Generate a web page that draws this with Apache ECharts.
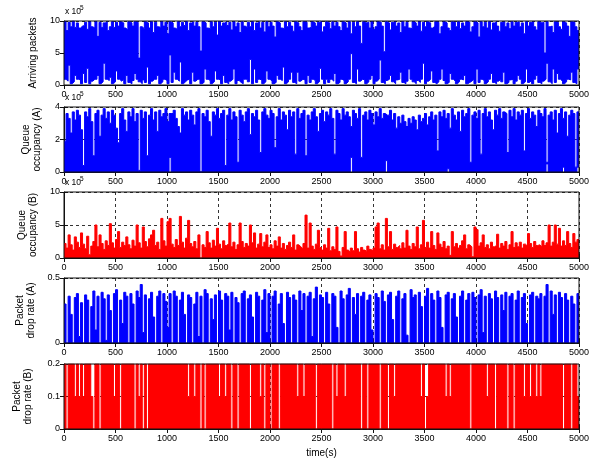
<!DOCTYPE html>
<html><head><meta charset="utf-8">
<script src="https://cdn.jsdelivr.net/npm/echarts@6/dist/echarts.min.js"></script>
<style>html,body{margin:0;padding:0;background:#fff}#c{width:597px;height:464px}</style>
</head><body><div id="c"></div><script>
const SAMPLE_SEC = 20;
const X_MIN = 0, X_MAX = 5000, X_INTERVAL = 500;
const xTickLabels = ['0','500','1000','1500','2000','2500','3000','3500','4000','4500','5000'];

// Panel 1: Arriving packets (x10^5), upper and lower envelope
const arrivingHigh = [
9.9,8.5,9.8,9.1,10,9.0,9.7,8.9,9.2,9.3, 9.8,8.7,9.9,9.1,8.9,9.9,7.6,9.8,9.0,9.7,
9.9,8.5,9.1,9.9,9.0,9.8,9.2,9.9,9.7,8.9, 8.6,9.9,9.7,9.2,9.9,9.8,4.2,9.1,8.8,9.9,
9.7,8.9,9.9,8.2,9.8,9.1,9.0,9.9,9.2,9.8, 8.0,9.9,9.7,8.9,8.7,9.9,9.1,9.8,9.3,9.9,
8.5,9.7,9.9,9.2,9.8,9.1,5.3,9.9,9.7,8.9, 8.8,9.9,9.1,9.8,7.8,9.9,9.2,9.7,9.9,9.3,
9.8,8.6,9.9,9.1,9.7,8.2,9.9,9.2,9.0,9.8, 9.1,9.9,8.5,9.7,9.9,8.9,9.8,8.3,9.9,9.1,
9.8,9.2,7.5,9.9,9.7,8.9,8.8,9.9,9.1,9.8, 9.2,8.4,9.9,9.7,9.1,8.5,9.9,9.8,8.9,9.0,
9.9,9.7,9.2,9.8,9.9,8.3,9.1,9.9,9.7,8.8, 9.9,9.2,9.8,9.1,8.5,9.9,9.7,8.9,9.9,8.0,
9.8,9.1,9.9,9.2,6.5,9.9,9.7,9.8,8.9,9.9, 8.7,9.1,9.9,9.8,9.2,5.2,9.9,9.7,8.6,9.8,
9.9,9.2,9.7,8.2,9.9,9.1,9.8,8.9,8.8,9.9, 9.7,9.2,9.9,8.4,9.8,9.1,9.9,9.7,8.9,9.2,
9.9,9.8,8.0,9.1,9.9,9.7,8.9,8.5,9.9,9.8, 9.1,9.9,8.8,9.7,9.2,9.9,9.8,8.3,9.1,9.9,
9.7,7.5,9.9,9.1,9.8,8.9,9.9,8.6,9.7,9.9, 9.2,8.4,9.8,9.9,9.1,9.7,8.8,9.9,9.2,9.8,
9.9,9.1,9.7,8.0,9.9,9.2,9.8,9.9,9.1,8.6, 9.9,9.7,9.8,5.0,9.9,9.1,9.2,8.2,9.9,9.8,
9.1,8.7,9.9,9.7,9.2,7.6,9.9,9.8,9.1,8.5];
const arrivingLow = [
0.9,0.6,3.1,0.2,0.5,1.5,0.9,0.8,0.2,1.8, 0.4,2.6,0.2,0.6,0.9,0.9,1.5,0.2,0.5,3.4,
0.9,0.7,1.2,0.2,0.5,2.2,0.9,0.6,0.9,0.2, 1.5,0.4,0.2,0.7,1.8,0.9,0.5,0.2,0.8,0.4,
2.8,0.2,0.6,0.9,0.9,1.5,0.2,0.5,0.9,0.7, 0.2,4.7,0.4,2.0,0.9,0.6,3.6,0.2,0.5,0.8,
0.9,0.2,2.0,0.6,0.9,0.9,0.2,0.4,2.5,0.9, 0.7,0.2,0.5,2.2,0.9,0.8,0.2,1.5,0.4,0.2,
0.6,0.9,2.5,0.2,0.7,0.4,0.2,0.9,0.9,0.5, 4.0,0.2,2.5,0.4,0.9,0.8,0.2,0.5,2.2,0.9,
0.6,0.2,0.4,1.5,0.9,0.7,2.8,0.2,0.5,0.9, 2.0,0.4,0.2,2.0,0.6,0.9,0.8,0.2,1.5,0.4,
0.9,0.7,0.2,0.5,2.6,0.9,0.2,0.9,0.4,0.9, 0.6,1.8,0.2,0.4,0.9,0.7,0.2,0.5,0.9,4.9,
0.4,0.2,2.5,0.6,0.9,0.8,0.2,0.5,0.9,1.5, 0.2,0.6,0.9,3.9,0.4,0.2,0.7,0.9,1.5,0.5,
0.2,0.8,0.9,2.0,0.4,0.2,0.6,2.5,0.9,0.5, 0.2,0.7,0.4,0.9,3.4,0.2,0.6,0.9,2.2,0.4,
0.2,0.5,0.9,2.5,0.7,0.2,0.4,1.8,0.9,0.6, 0.2,0.5,0.9,0.8,1.5,0.2,0.4,0.6,0.9,0.2,
2.5,0.4,0.9,0.7,0.2,0.5,0.9,1.8,0.4,0.2, 0.6,0.9,0.5,2.0,0.2,0.4,0.8,0.9,0.2,0.6,
1.5,0.9,0.2,0.5,2.5,0.4,0.7,0.2,0.9,1.5, 0.4,0.2,0.6,0.9,3.4,0.5,0.2,2.5,0.4,1.8,
0.9,0.6,0.2,0.5,0.9,0.8,2.0,0.4,0.2,2.5];

// Panel 2: Queue occupancy (A) (x10^5)
const queueAHigh = [
1.9,3.6,3.3,2.4,3.7,3.2,3.8,3.5,2.6,0.4, 3.7,3.4,3.9,3.1,1.0,3.6,3.8,2.2,3.5,3.9,
3.3,3.7,3.0,3.8,3.5,2.7,1.8,3.6,3.9,3.2, 2.5,3.7,3.4,3.9,3.1,3.6,0.1,3.8,3.3,3.7,
1.0,3.5,3.9,3.2,3.7,2.5,3.8,3.4,3.6,3.9, 3.1,3.6,3.6,3.8,3.3,2.8,2.4,3.9,3.5,3.7,
3.2,3.8,3.5,2.9,3.7,3.9,0.0,3.6,3.4,3.8, 3.1,2.2,3.7,3.5,3.9,3.3,3.6,3.8,0.4,3.5,
3.9,3.2,3.7,3.4,0.6,3.8,3.5,3.1,3.7,3.9, 2.3,3.6,3.4,3.8,3.2,1.2,3.7,3.9,3.5,3.3,
3.8,3.6,1.5,3.4,3.9,3.2,3.7,3.5,2.6,3.8, 3.4,3.7,1.1,3.9,3.3,3.6,3.8,1.0,3.5,3.2,
3.7,3.9,3.4,2.5,3.6,3.8,3.1,3.7,3.5,3.9, 3.3,1.1,3.8,3.6,3.2,3.9,3.5,3.7,3.4,2.8,
3.8,3.6,3.3,3.9,0.9,3.5,3.7,3.2,3.8,3.6, 2.9,3.7,3.4,3.9,3.3,3.6,3.5,3.5,3.8,3.2,
3.6,2.7,3.4,3.0,3.5,3.1,2.8,3.3,3.0,3.4, 3.2,2.6,3.5,3.1,3.3,3.6,2.9,3.4,3.7,3.2,
3.5,1.3,3.7,3.4,3.8,3.3,3.6,2.7,3.9,3.5, 3.2,3.7,2.5,3.8,3.4,3.6,3.9,0.6,3.5,3.7,
3.3,3.8,1.1,3.6,3.9,3.4,3.7,3.2,2.6,3.8, 3.5,3.9,3.3,3.7,3.6,1.2,3.8,3.4,3.9,3.2,
3.7,3.5,3.8,1.3,3.6,3.9,3.3,3.7,3.5,2.8, 3.8,3.6,3.4,3.9,0.6,3.5,3.7,3.2,3.8,2.4,
3.6,3.9,3.3,3.7,2.2,3.5,3.8,3.6,0.3,3.7];
const queueALow = [
0,0,0,0,0,0,0,0,0,0, 0,0,0,0,0,0,0,0,0,0, 0,0,0,0,0,0,0,0,0,0, 0,0,0,0,0,0,0,0,0,0,
0,0,0,0,0,0,0,0,0,0, 0,0.9,0,0,0,0,0,0,0,0, 0,0,0,0,0,0,0,0,0,0, 0,0,0,0,0,0,0,0,0,0,
0,0,0,0,0,0,0,0,0,0, 0,0,0,0,0,0,0,0,0,0, 0,0,0,0,0,0,0,0,0,0, 0,0,0,0,0,0,0,0,0,0,
0,0,0,0,0,0,0,0,0,0, 0,0,0,0,0,0,0,0,0,0.9, 0,0,0,0,0,0,0,0,0,0, 0,0,0,0,0,0,0.7,0,0,0,
0,0,0,0,0,0,0,0,0,0, 0,0,0,0,0,0,0,0,0,0, 0,0,0,0,0,0,0.2,0,0,0, 0,0,0,0,0,0,0,0,0,0,
0,0,0,0,0,0,0,0,0,0, 0,0,0,0,0,0,0,0,0,0, 0,0,0,0,0,0,0,0,0,0, 0,0,0,0,0.5,0,0,0,0,0,
0,0,0.3,0,0,0,0,0,0,0.3];

// Panel 3: Queue occupancy (B) (x10^5)
const queueB = [
2.2,1.5,3.5,2.0,1.2,3.2,2.4,1.6,3.8,2.1, 1.4,3.3,0.5,1.8,2.5,5.0,1.7,3.5,2.2,1.3,
2.6,1.9,5.2,2.3,1.5,2.8,4.0,1.6,2.4,1.9, 3.2,2.0,1.4,2.7,1.8,5.0,2.3,1.5,4.7,2.5,
1.7,2.9,3.5,4.2,1.9,2.4,1.3,6.0,2.6,1.8, 5.5,6.0,2.1,1.6,2.8,1.9,6.3,2.4,1.5,3.0,
5.7,2.2,1.7,2.5,1.4,3.5,0.0,2.0,1.6,4.0, 2.3,1.5,2.7,1.8,4.5,2.1,1.4,2.6,1.9,2.2,
5.3,1.7,2.4,1.3,2.0,5.3,2.5,1.6,2.2,1.8, 5.0,2.3,3.8,1.5,2.1,3.7,1.7,2.4,3.5,1.6,
2.0,1.4,2.6,1.8,3.2,1.5,2.2,1.3,1.9,2.4, 1.6,3.5,1.2,2.0,1.7,1.4,2.2,6.5,1.5,5.3,
1.8,1.3,2.1,4.2,1.6,1.2,2.0,1.5,4.5,1.1, 1.7,1.3,4.7,1.0,0.3,1.6,4.0,1.2,0.9,1.5,
1.1,4.0,1.4,0.9,1.6,1.2,1.0,1.8,1.3,1.1, 1.5,4.7,5.3,1.4,2.0,1.2,6.0,1.7,4.0,1.3,
2.1,1.6,1.9,1.4,2.3,1.5,4.2,1.8,1.3,2.2, 1.7,4.7,1.4,2.0,5.7,1.6,2.4,1.5,4.0,1.9,
1.3,3.8,2.1,1.6,2.5,1.4,1.8,0.4,4.0,1.7, 2.2,1.5,1.9,2.6,3.5,1.4,2.0,1.7,0.2,4.7,
4.3,1.8,2.3,3.5,1.6,2.0,1.4,2.4,1.7,1.9, 3.6,1.5,2.2,1.8,2.5,1.3,2.0,4.0,1.6,2.3,
1.7,2.4,1.5,2.1,1.8,3.7,2.2,1.6,2.5,1.9, 2.0,1.7,2.6,1.9,2.3,5.0,1.8,2.4,5.0,2.1,
4.5,1.8,2.6,1.9,4.0,2.2,1.6,3.7,2.4,2.8];

// Panel 4: Packet drop rate (A)
const dropA = [
0.30,0,0.36,0.22,0,0.35,0.38,0.05,0.31,0, 0.37,0.33,0,0.28,0.40,0.10,0.36,0,0.39,0.34,
0.02,0.37,0.25,0,0.38,0.41,0,0.33,0.15,0.39, 0.36,0,0.38,0.30,0,0.40,0.35,0.45,0.08,0.37,
0,0.34,0.39,0.20,0,0.36,0.40,0,0.38,0.32, 0.12,0.38,0,0.40,0.36,0,0.33,0.39,0.22,0,
0.37,0.35,0,0.30,0.39,0.05,0.36,0,0.41,0.38, 0,0.34,0.18,0.37,0,0.40,0.33,0,0.38,0.36,
0.10,0.39,0,0.35,0.31,0,0.38,0.40,0,0.34, 0.37,0.20,0,0.39,0.36,0,0.33,0.41,0.08,0.38,
0,0.36,0.40,0,0.30,0.38,0.15,0,0.39,0.35, 0,0.37,0.33,0,0.40,0.25,0.38,0,0.36,0.39,
0.05,0.34,0.43,0,0.37,0.35,0,0.39,0.30,0, 0.38,0.36,0.12,0,0.40,0.34,0,0.37,0.42,0,
0.35,0.22,0.38,0,0.36,0.39,0,0.33,0.37,0.10, 0,0.38,0.35,0,0.40,0.32,0,0.37,0.39,0.18,
0,0.36,0.40,0,0.34,0.38,0.06,0,0.41,0.35, 0.37,0,0.39,0.28,0,0.36,0.42,0,0.38,0.33,
0,0.40,0.35,0.12,0,0.37,0.39,0,0.34,0.38, 0.20,0,0.36,0.40,0,0.33,0.38,0,0.39,0.35,
0,0.37,0.41,0.08,0.36,0,0.38,0.34,0,0.40, 0.35,0,0.37,0.25,0.39,0,0.36,0.38,0,0.33,
0.40,0,0.35,0.38,0.15,0,0.37,0.39,0,0.36, 0.34,0.38,0,0.36,0.45,0,0.40,0.22,0.37,0,
0.39,0.35,0,0.38,0.33,0,0.36,0.30,0,0.38];

// Panel 5: Packet drop rate (B)
const dropB = [
.2,0,.2,.2,.2,.1,.2,.1,.2,.1, .2,.2,.2,.1,0,.2,.2,0,.2,.2, .2,.2,.2,.2,.1,.2,.2,0,.2,.2,
.2,.2,.2,.2,0,.2,.1,.2,0,.2, 0,.2,.2,.2,.2,.2,.2,.2,.2,.2, .2,.2,.2,.2,.2,.2,.2,.2,.2,.2,
.1,.2,.2,.1,.2,.2,0,.2,0,.2, .2,.2,.2,.2,.2,.1,.2,.2,.1,.2, .2,0,.2,.2,0,.2,.2,.2,.2,.2,
0,.2,.2,.2,.2,.1,.2,0,.2,.2, 0,.2,.2,.2,0,.2,.2,.2,.2,.2, .2,.2,.2,.1,.2,.2,.1,.2,.2,.2,
.2,.2,0,.2,.2,.2,.2,.2,.2,.2, 0,.2,.1,.2,.2,.2,.1,.2,.2,.2, .2,.2,.2,.2,0,.2,.2,0,.2,.2,
.2,.2,.2,0,.2,.2,.2,0,.2,.2, .1,.2,.2,.2,.2,.2,.2,.2,.2,.2, .2,.2,.2,.1,.2,0,.1,.2,.2,.2,
.2,.2,.2,.2,.2,.1,.2,.1,.2,.2, .2,.2,.2,.2,.2,.2,.2,0,.2,.2, .2,.2,.2,.2,.2,.1,.2,.2,.2,0,
.2,.2,.2,.2,.2,0,.2,.2,0,.2, .2,.2,.2,.1,.2,.2,.1,.2,.2,.1, .2,.1,.2,.2,.2,.2,.2,.2,.2,.2,
.2,.2,0,.2,.2,.2,0,.2,.2,.1];

const yNames = ['Arriving packets','Queue\noccupancy (A)','Queue\noccupancy (B)','Packet\ndrop rate (A)','Packet\ndrop rate (B)'];
const yMax = [10, 4, 10, 0.5, 0.2];
const yInterval = [5, 2, 5, 0.5, 0.1];
const exponentLabel = ['x 10', '5'];

// ---- layout / style ----
const FONT = 'Liberation Sans, Arial, sans-serif';
const BLUE = '#0000ff', RED = '#ff0000';
const gridTop = [21, 107, 192, 278, 364];
const gridH = [64, 65, 66, 65, 65];
const nameGap = [22, 21, 19, 25, 30];
const panels = [
  {hi: arrivingHigh, lo: arrivingLow, color: BLUE, exp: true},
  {hi: queueAHigh, lo: queueALow, color: BLUE, exp: true},
  {hi: queueB, color: RED, exp: true},
  {hi: dropA, color: BLUE},
  {hi: dropB, color: RED}
];

function pairs(arr) {
  const d = arr.map((v, i) => [i * SAMPLE_SEC, v]);
  d.push([X_MAX, arr[arr.length - 1]]);
  return d;
}

const grids = [], xAxes = [], yAxes = [], series = [], graphics = [];
const dash = {color: '#333', type: [3, 3], width: 1};
panels.forEach((p, k) => {
  grids.push({left: 64, width: 515, top: gridTop[k], height: gridH[k], show: true, z: 10,
    backgroundColor: 'rgba(0,0,0,0)', borderColor: '#111', borderWidth: 1});
  xAxes.push({gridIndex: k, type: 'value', min: X_MIN, max: X_MAX, interval: X_INTERVAL, position: 'bottom',
    axisLine: {show: true, lineStyle: {color: '#111'}},
    axisTick: {inside: true, length: 4, lineStyle: {color: '#111'}},
    axisLabel: {fontSize: 9, color: '#000', margin: 5, fontFamily: FONT,
      formatter: v => xTickLabels[Math.round(v / X_INTERVAL)]},
    splitLine: {show: true, lineStyle: dash},
    name: k === 4 ? 'time(s)' : '', nameLocation: 'middle', nameGap: 19,
    nameTextStyle: {fontSize: 10, color: '#000', fontFamily: FONT}});
  xAxes.push({gridIndex: k, type: 'value', min: X_MIN, max: X_MAX, interval: X_INTERVAL, position: 'top',
    axisLine: {show: false}, axisTick: {inside: true, length: 4, lineStyle: {color: '#111'}},
    axisLabel: {show: false}, splitLine: {show: false}});
  yAxes.push({gridIndex: k, type: 'value', min: 0, max: yMax[k], interval: yInterval[k], position: 'left',
    axisLine: {show: true, lineStyle: {color: '#111'}},
    axisTick: {inside: true, length: 4, lineStyle: {color: '#111'}},
    axisLabel: {fontSize: 9, color: '#000', margin: 4, fontFamily: FONT},
    splitLine: {show: true, lineStyle: dash},
    name: yNames[k], nameLocation: 'middle', nameGap: nameGap[k],
    nameTextStyle: {fontSize: 10, color: '#000', lineHeight: 11, fontFamily: FONT}});
  yAxes.push({gridIndex: k, type: 'value', min: 0, max: yMax[k], interval: yInterval[k], position: 'right',
    axisLine: {show: false}, axisTick: {inside: true, length: 4, lineStyle: {color: '#111'}},
    axisLabel: {show: false}, splitLine: {show: false}});
  const base = {type: 'line', xAxisIndex: 2 * k, yAxisIndex: 2 * k, step: 'end', symbol: 'none',
    showSymbol: false, silent: true, animation: false};
  // upper envelope: filled down to zero
  series.push(Object.assign({}, base, {data: pairs(p.hi),
    lineStyle: {color: p.color, width: 1}, areaStyle: {color: p.color, opacity: 1}}));
  // lower envelope: blank area below the trace
  if (p.lo) {
    series.push(Object.assign({}, base, {data: pairs(p.lo),
      lineStyle: {color: p.color, width: 1}, areaStyle: {color: '#ffffff', opacity: 1}}));
  }
  if (p.exp) {
    const y = gridTop[k] - 9;
    graphics.push({type: 'text', x: 65, y: y, z: 20,
      style: {text: exponentLabel[0], font: '8.5px ' + FONT, fill: '#000', verticalAlign: 'middle', textVerticalAlign: 'middle'}});
    graphics.push({type: 'text', x: 80, y: y - 4, z: 20,
      style: {text: exponentLabel[1], font: '6.5px ' + FONT, fill: '#000', verticalAlign: 'middle', textVerticalAlign: 'middle'}});
  }
});

const chart = echarts.init(document.getElementById('c'), null, {renderer: 'canvas'});
chart.setOption({
  animation: false,
  backgroundColor: '#fff',
  textStyle: {fontFamily: FONT},
  grid: grids, xAxis: xAxes, yAxis: yAxes, series: series, graphic: graphics
});
</script></body></html>
